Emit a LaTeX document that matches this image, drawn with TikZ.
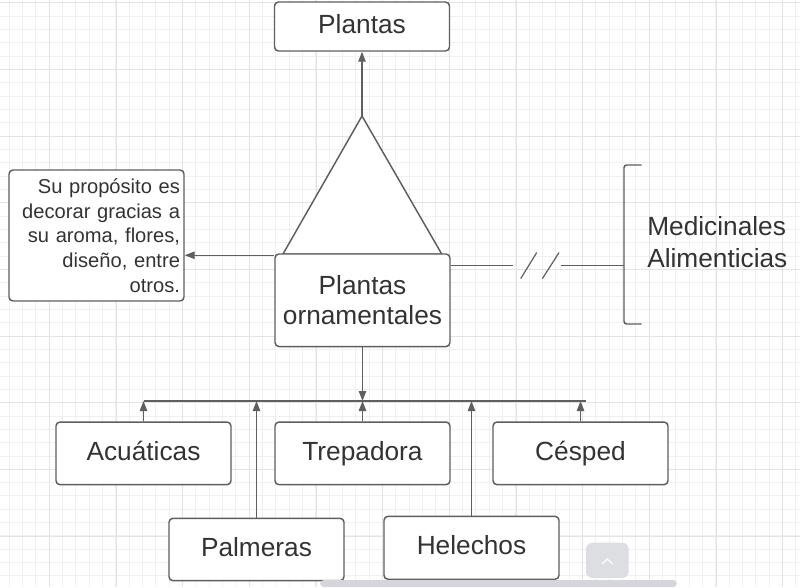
\documentclass[tikz,border=0pt]{standalone}
\usepackage{fontspec}
\setmainfont{Liberation Sans}
\usetikzlibrary{arrows.meta}
\definecolor{lineGray}{RGB}{95,95,95}
\definecolor{textGray}{RGB}{51,51,51}
\definecolor{gridMinor}{RGB}{240,240,240}
\definecolor{gridMajor}{RGB}{228,228,228}
\definecolor{barGray}{RGB}{212,214,218}
\definecolor{btnGray}{RGB}{220,222,225}
\tikzset{
  box/.style={draw=lineGray, line width=1.1pt, rounded corners=3pt, fill=white, text=textGray,
    font=\fontsize{19.7}{22.5}\selectfont, minimum width=131.25pt, inner sep=0pt, align=center},
  onerow/.style={box, text height=14.5pt, text depth=4.3pt},
  conn/.style={draw=lineGray, line width=0.9pt},
  arr/.style={conn, -{Triangle[length=7.5pt,width=5.6pt]}},
}
\begin{document}
\begin{tikzpicture}[x=0.75pt,y=0.75pt,yscale=-1,xscale=1]
\useasboundingbox (0,0) rectangle (800,587);
\fill[white] (0,0) rectangle (800,587);

%Grid: minor and major lines
\foreach \i in {0,...,59} \draw[gridMinor, line width=0.75pt] ({9.333+13.333*\i},0) -- ({9.333+13.333*\i},587);
\foreach \i in {0,...,43} \draw[gridMinor, line width=0.75pt] (0,{2.667+13.333*\i}) -- (800,{2.667+13.333*\i});
\foreach \j in {0,...,11} \draw[gridMajor, line width=0.75pt] ({49.333+66.667*\j},0) -- ({49.333+66.667*\j},587);
\foreach \j in {0,...,8} \draw[gridMajor, line width=0.75pt] (0,{2.667+66.667*\j}) -- (800,{2.667+66.667*\j});

%Shape: Triangle
\draw[conn, line width=1.1pt, fill=white] (362,116) coordinate (apex) -- (441.7,254) -- (283,254) -- cycle;

% Text Node
\node[onerow, minimum height=36.75pt] (plantas) at (362,26.5) {Plantas};
% Text Node
\node[box, minimum height=69.4pt] (orn) at (362.5,300.25) {Plantas\\ornamentales};
% Text Node
\node[box, minimum height=98.25pt, text width=125.25pt, align=right, inner xsep=3pt,
  font=\fontsize{15.1}{18.5}\selectfont] (desc) at (96.5,235.5) {Su propósito es\\decorar gracias a\\su aroma, flores,\\diseño, entre\\otros.};
% Text Node
\node[anchor=west, inner sep=0pt, text=textGray, align=left,
  font=\fontsize{19.7}{24}\selectfont] (usos) at (647,242) {Medicinales\\Alimenticias};

% Text Node
\node[onerow, minimum height=47pt] (acu) at (143.5,453.35) {Acuáticas};
% Text Node
\node[onerow, minimum height=47pt] (tre) at (362.5,453.35) {Trepadora};
% Text Node
\node[onerow, minimum height=47pt] (ces) at (580.5,453.35) {Césped};
% Text Node
\node[onerow, minimum height=46.8pt] (pal) at (256.5,549.5) {Palmeras};
% Text Node
\node[onerow, minimum height=47.25pt] (hel) at (471.5,547.8) {Helechos};

%Straight Lines: up to Plantas and left to the description
\draw[arr] (apex) -- (plantas.south);
\draw[arr] ([yshift=1.5pt]orn.north west) coordinate (oL) -- (oL -| desc.east);

%Shape: Bracket
\draw[conn, line width=1.1pt, rounded corners=2pt] (641.7,165) -- (624,165) coordinate (brcT) -- (624,324) -- (641.7,324);

%Straight Lines: broken line to the bracket
\draw[conn] ([yshift=9pt]orn.north east) coordinate (oR) -- ++(62,0) coordinate (brkA);
\draw[conn] (brkA) ++(8,13.3) -- ++(16,-26);
\draw[conn] (brkA) ++(29.7,13.3) -- ++(16.6,-26);
\draw[conn] (brkA) ++(48,0) coordinate (brkB) -- (brkB -| brcT);

%Straight Lines: bus to the kinds
\coordinate (busL) at (143.5,401);
\coordinate (busR) at (586,401);
\draw[conn] (busL) -- (busR);
\draw[arr] (orn.south) -- (orn.south |- busL);
\foreach \n in {acu,tre,ces,pal,hel} \draw[arr] (\n.north) -- (\n.north |- busL);

%Shape: scroll bar and button
\fill[barGray, rounded corners=3pt] (320,580) rectangle (677,587);
\fill[btnGray, rounded corners=5pt] (586,542.7) rectangle (628.7,578);
\draw[white, line width=0.9pt] (602,564) -- (607.3,559) -- (612.6,564);

\end{tikzpicture}
\end{document}
